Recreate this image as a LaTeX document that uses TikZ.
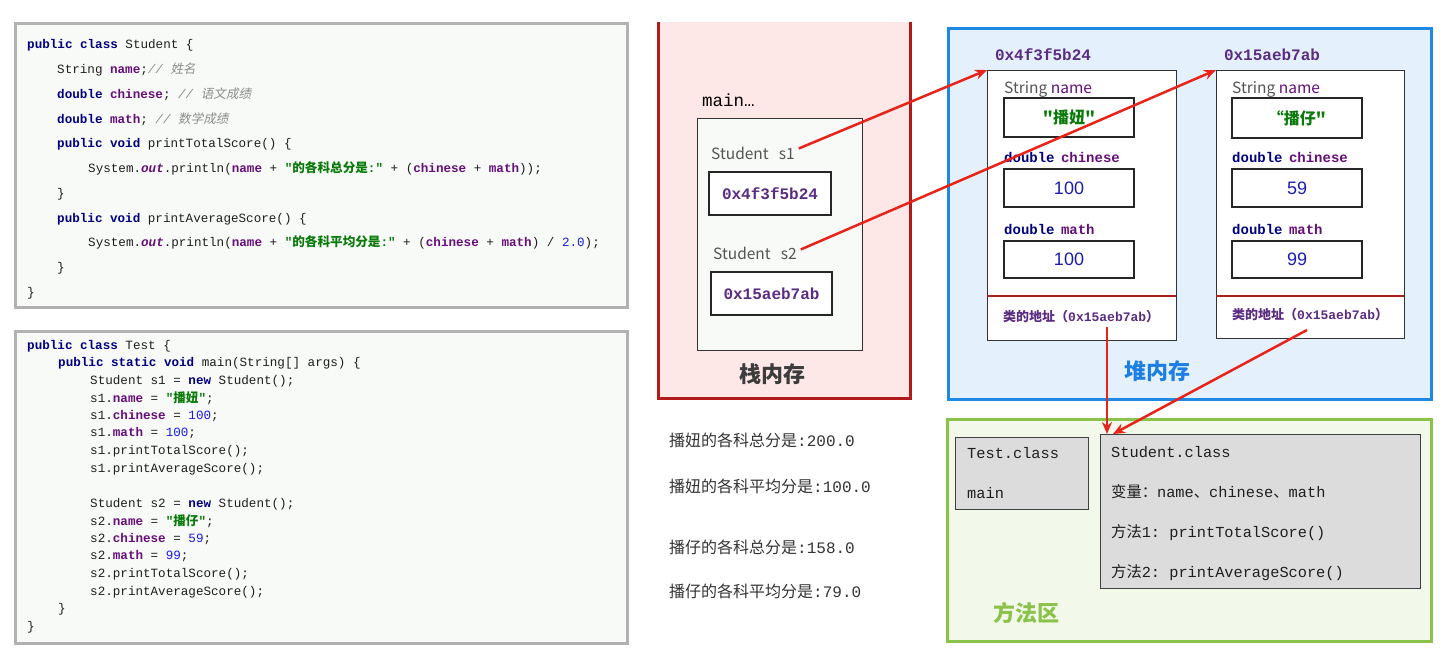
\documentclass[tikz,border=0pt]{standalone}
\usepackage{fontspec}
\setmainfont{Liberation Sans}
\setsansfont{Liberation Sans}
\setmonofont{Liberation Mono}
\newfontfamily\cjk{Noto Sans CJK SC}
\newfontfamily\cjki[FakeSlant=0.2]{Noto Sans CJK SC}
\usetikzlibrary{arrows.meta}
\definecolor{kwc}{HTML}{000080}
\definecolor{fdc}{HTML}{660E7A}
\definecolor{cmc}{HTML}{8C8C8C}
\definecolor{stc}{HTML}{0A7A0A}
\definecolor{numc}{HTML}{1A1AE0}
\definecolor{txc}{HTML}{1E1E1E}
\definecolor{addrc}{HTML}{5B2C83}
\definecolor{arrc}{HTML}{E8231A}
\definecolor{stackfill}{HTML}{FDE7E7}
\definecolor{stackline}{HTML}{B11A1A}
\definecolor{divc}{HTML}{A82020}
\definecolor{heapfill}{HTML}{E4F1FC}
\definecolor{heapline}{HTML}{1E88E5}
\definecolor{heaptitle}{HTML}{1B7FE3}
\definecolor{methfill}{HTML}{F2F9EA}
\definecolor{methline}{HTML}{8BC34A}
\definecolor{codefill}{HTML}{F8FAF8}
\definecolor{codeline}{HTML}{B2B2B2}
\definecolor{boxgray}{HTML}{DCDCDC}
\definecolor{valc}{HTML}{1C1CB4}
\definecolor{lblgray}{HTML}{555555}
\definecolor{outc}{HTML}{333333}
\definecolor{titlegray}{HTML}{3C3C3C}
\newcommand\jkw[1]{{\bfseries\color{kwc}#1}}
\newcommand\jfd[1]{{\bfseries\color{fdc}#1}}
\newcommand\jout[1]{{\bfseries\itshape\color{fdc}#1}}
\newcommand\jcm[1]{{\itshape\color{cmc}#1}}
\newcommand\jst[1]{{\bfseries\color{stc}#1}}
\newcommand\jnum[1]{{\color{numc}#1}}
\newcommand\zh[1]{{\cjk #1}}
\begin{document}
\begin{tikzpicture}[x=1pt,y=-1pt,
  code/.style={anchor=base west,inner sep=0,yshift=-4.4pt,font=\fontsize{12.6}{14}\selectfont\ttfamily,text=txc},
  codebox/.style={draw=codeline,line width=3pt,fill=codefill,inner sep=0,anchor=north west},
  vbox/.style={draw=black!85,line width=1.2pt,fill=white,inner sep=0},
  addr/.style={font=\fontsize{16}{18}\selectfont\ttfamily\bfseries,text=addrc},
  lbl/.style={anchor=base west,inner sep=0,yshift=-5pt,font=\fontsize{15.5}{18}\selectfont\cjk,text=lblgray},
  flbl/.style={anchor=base west,inner sep=0,yshift=-4.8pt,font=\fontsize{14}{16}\selectfont\ttfamily},
  val/.style={font=\fontsize{18}{20}\selectfont\sffamily,text=valc},
  objbox/.style={draw=black!80,line width=1.2pt,fill=white,inner sep=0,anchor=north west},
  caddr/.style={anchor=base west,inner sep=0,yshift=-4.5pt,text=addrc},
  mtxt/.style={anchor=base west,inner sep=0,yshift=-5.2pt,font=\fontsize{15.3}{17}\selectfont\ttfamily,text=txc},
  graybox/.style={draw=black!75,line width=1.2pt,fill=boxgray,inner sep=0,anchor=north west},
  outtxt/.style={anchor=base west,inner sep=0,yshift=-5.5pt,font=\fontsize{16}{18}\selectfont\ttfamily,text=outc},
  title/.style={font=\fontsize{22}{24}\selectfont\cjk\bfseries,inner sep=0},
  redarr/.style={draw=arrc,line width=2.5pt,-{Stealth[length=12pt,width=10pt]}}]
\useasboundingbox[fill=white] (0,0) rectangle (1448,661);

% ---------- code box 1 ----------
\node[codebox,minimum width=612,minimum height=284] (cb1) at (14,22) {};
\node[code] (a1) at (27,44) {\jkw{public class} Student \{};
\node[code] (a2) at (57,69) {String \jfd{name};\jcm{// {\cjki 姓名}}};
\node[code] (a3) at (57,94) {\jkw{double} \jfd{chinese}; \jcm{// {\cjki 语文成绩}}};
\node[code] (a4) at (57,119) {\jkw{double} \jfd{math}; \jcm{// {\cjki 数学成绩}}};
\node[code] (a5) at (57,143) {\jkw{public void} printTotalScore() \{};
\node[code] (a6) at (88,168) {System.\jout{out}.println(\jfd{name} + \jst{"\zh{的各科总分是}:"} + (\jfd{chinese} + \jfd{math}));};
\node[code] (a7) at (57,193) {\}};
\node[code] (a8) at (57,218) {\jkw{public void} printAverageScore() \{};
\node[code] (a9) at (88,242) {System.\jout{out}.println(\jfd{name} + \jst{"\zh{的各科平均分是}:"} + (\jfd{chinese} + \jfd{math}) / \jnum{2.0});};
\node[code] (a10) at (57,267) {\}};
\node[code] (a11) at (27,292) {\}};

% ---------- code box 2 ----------
\node[codebox,minimum width=612,minimum height=312] (cb2) at (14,330) {};
\node[code] (b1) at (27,345) {\jkw{public class} Test \{};
\node[code] (b2) at (58,362) {\jkw{public static void} main(String[] args) \{};
\node[code] (b3) at (90,380) {Student s1 = \jkw{new} Student();};
\node[code] (b4) at (90,398) {s1.\jfd{name} = \jst{"\zh{播妞}"};};
\node[code] (b5) at (90,415) {s1.\jfd{chinese} = \jnum{100};};
\node[code] (b6) at (90,432) {s1.\jfd{math} = \jnum{100};};
\node[code] (b7) at (90,450) {s1.printTotalScore();};
\node[code] (b8) at (90,468) {s1.printAverageScore();};
\node[code] (b9) at (90,503) {Student s2 = \jkw{new} Student();};
\node[code] (b10) at (90,521) {s2.\jfd{name} = \jst{"\zh{播仔}"};};
\node[code] (b11) at (90,538) {s2.\jfd{chinese} = \jnum{59};};
\node[code] (b12) at (90,555) {s2.\jfd{math} = \jnum{99};};
\node[code] (b13) at (90,573) {s2.printTotalScore();};
\node[code] (b14) at (90,591) {s2.printAverageScore();};
\node[code] (b15) at (58,608) {\}};
\node[code] (b16) at (27,626) {\}};

% ---------- stack ----------
\fill[stackfill] (658,22) rectangle (910,398);
\draw[stackline,line width=3pt] (658,22) -- (658,398) -- (910,398) -- (910,22);
\node[anchor=base west,inner sep=0,yshift=-6pt,font=\fontsize{17.5}{19}\selectfont\ttfamily] (mainlbl) at (702,100) {main…};
\node[draw=black!80,line width=1.2pt,fill=codefill,minimum width=165,minimum height=232,anchor=north west,inner sep=0] (frame) at (697,118) {};
\node[lbl] (s1lbl) at (711,154) {Student\hspace{10pt}s1};
\node[vbox,minimum width=122,minimum height=43,addr] (s1box) at (770,193.5) {0x4f3f5b24};
\node[lbl] (s2lbl) at (713,254) {Student\hspace{10pt}s2};
\node[vbox,minimum width=121,minimum height=43,addr] (s2box) at (771.5,293.5) {0x15aeb7ab};
\node[title,text=titlegray] (stacktitle) at (772,374) {栈内存};

% ---------- heap ----------
\node[draw=heapline,line width=3pt,fill=heapfill,minimum width=483,minimum height=371,anchor=north west,inner sep=0] (heap) at (947,27) {};
\node[addr] (o1addr) at (1043,55) {0x4f3f5b24};
\node[addr] (o2addr) at (1272,55) {0x15aeb7ab};
% object 1
\node[objbox,minimum width=189,minimum height=270] (obj1) at (987,70) {};
\node[lbl] (o1nl) at (1004,88) {String \textcolor{fdc}{name}};
\node[vbox,minimum width=130,minimum height=39] (o1nb) at (1069,117.5) {\fontsize{16}{18}\selectfont\cjk\bfseries\color{stc}"播妞"};
\node[flbl] (o1cl) at (1004,158) {\jkw{double}\hspace{-2pt} \jfd{chinese}};
\node[vbox,minimum width=130,minimum height=38,val] (o1cb) at (1069,188) {100};
\node[flbl] (o1ml) at (1004,230) {\jkw{double}\hspace{-2pt} \jfd{math}};
\node[vbox,minimum width=130,minimum height=37,val] (o1mb) at (1069,259.5) {100};
\draw[divc,line width=2pt] (987,296) -- (1176,296);
\node[caddr] (o1ca) at (1003,317) {\fontsize{13}{15}\selectfont\cjk\bfseries 类的地址（\ttfamily 0x15aeb7ab\cjk ）};
% object 2
\node[objbox,minimum width=188,minimum height=268] (obj2) at (1216,70) {};
\node[lbl] (o2nl) at (1232,88) {String \textcolor{fdc}{name}};
\node[vbox,minimum width=130,minimum height=40] (o2nb) at (1297,118) {\fontsize{16}{18}\selectfont\cjk\bfseries\color{stc}“播仔"};
\node[flbl] (o2cl) at (1232,158) {\jkw{double}\hspace{-2pt} \jfd{chinese}};
\node[vbox,minimum width=130,minimum height=38,val] (o2cb) at (1297,188) {59};
\node[flbl] (o2ml) at (1232,230) {\jkw{double}\hspace{-2pt} \jfd{math}};
\node[vbox,minimum width=130,minimum height=37,val] (o2mb) at (1297,259.5) {99};
\draw[divc,line width=2pt] (1216,296) -- (1404,296);
\node[caddr] (o2ca) at (1232,315) {\fontsize{13}{15}\selectfont\cjk\bfseries 类的地址（\ttfamily 0x15aeb7ab\cjk ）};
\node[title,text=heaptitle] (heaptitle) at (1157,371) {堆内存};

% ---------- output ----------
\node[outtxt] (out1) at (669,441) {\zh{播妞的各科总分是}:200.0};
\node[outtxt] (out2) at (669,487) {\zh{播妞的各科平均分是}:100.0};
\node[outtxt] (out3) at (669,548) {\zh{播仔的各科总分是}:158.0};
\node[outtxt] (out4) at (669,592) {\zh{播仔的各科平均分是}:79.0};

% ---------- method area ----------
\node[draw=methline,line width=3pt,fill=methfill,minimum width=484,minimum height=222,anchor=north west,inner sep=0] (meth) at (946,418) {};
\node[graybox,minimum width=133,minimum height=72] (tcls) at (955,437) {};
\node[mtxt] (t1) at (967,453) {Test.class};
\node[mtxt] (t2) at (967,493) {main};
\node[graybox,minimum width=320,minimum height=154] (scls) at (1100,434) {};
\node[mtxt] (s1t) at (1111,452) {Student.class};
\node[mtxt] (s2t) at (1111,492) {\zh{变量：}name\zh{、}chinese\zh{、}math};
\node[mtxt] (s3t) at (1111,532) {\zh{方法}1: printTotalScore()};
\node[mtxt] (s4t) at (1111,572) {\zh{方法}2: printAverageScore()};
\node[title,text=methline] (methtitle) at (1026,613) {方法区};

% ---------- arrows ----------
\coordinate (o1dot) at (1107,327);
\coordinate (o2dot) at (1307,330);
\coordinate (sclsin) at (1113,434);
\draw[redarr] ([xshift=4pt,yshift=-2pt]s1lbl.north east) -- (obj1.north west);
\draw[redarr] ([xshift=4pt,yshift=-3pt]s2lbl.north east) -- (obj2.north west);
\draw[redarr] (o1dot) -- (o1dot |- scls.north);
\draw[redarr] (o2dot) -- (sclsin);
\end{tikzpicture}
\end{document}
